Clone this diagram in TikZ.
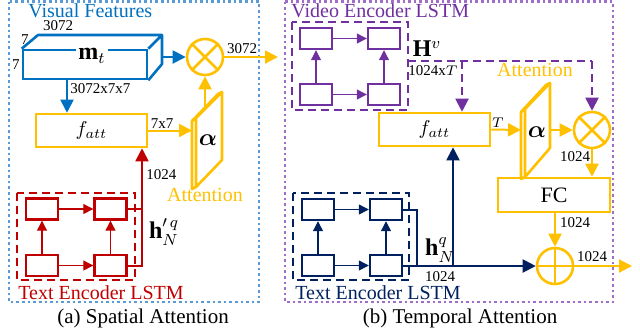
\documentclass[tikz,border=0pt]{standalone}
\usepackage{fontspec}
\setmainfont{Liberation Serif}
\usepackage{amsmath,bm}
\usetikzlibrary{arrows.meta,positioning}

\definecolor{featblue}{RGB}{0,112,192}
\definecolor{frameblue}{RGB}{91,155,213}
\definecolor{attyellow}{RGB}{255,192,0}
\definecolor{textred}{RGB}{192,0,0}
\definecolor{vidpurple}{RGB}{112,48,160}
\definecolor{framepurple}{RGB}{160,110,200}
\definecolor{textnavy}{RGB}{0,32,96}

\tikzset{
  panel/.style={line width=1.3pt,dash pattern=on 1.3pt off 1.5pt},
  lstmbox/.style={line width=1.4pt,dash pattern=on 4pt off 2.5pt},
  cell/.style={draw,rectangle,line width=1.2pt,minimum width=16pt,minimum height=10.5pt,inner sep=0pt},
  opbox/.style={draw=attyellow,rectangle,line width=1.3pt,inner sep=0pt},
  opcirc/.style={draw=attyellow,circle,line width=1.3pt,inner sep=0pt,minimum size=18pt},
  bigarr/.style={-{Triangle[length=6.5pt,width=6.5pt]},line width=1pt},
  smallarr/.style={-{Triangle[length=5pt,width=5pt]},line width=0.6pt},
  dimlab/.style={font=\fontsize{7.5}{8}\selectfont,inner sep=0.5pt},
  title/.style={font=\fontsize{10}{11}\selectfont,inner sep=0pt}
}

\begin{document}
\begin{tikzpicture}[x=0.5pt,y=-0.5pt]
\useasboundingbox (0,0) rectangle (640,334);

% panel frames
\draw[panel,frameblue] (9,1.5) rectangle (259,302);
\draw[panel,framepurple] (285,1.5) rectangle (613,302);
\node[title,anchor=west,text=featblue] (vft) at (28,11) {Visual Features};
\node[title,anchor=west,text=vidpurple] (vet) at (291,11) {Video Encoder LSTM};
\node[font=\fontsize{10.5}{12}\selectfont] (capa) at (143,318) {(a) Spatial Attention};
\node[font=\fontsize{10.5}{12}\selectfont] (capb) at (460,318) {(b) Temporal Attention};

% ---- (a) spatial attention ----
\node[draw=featblue,line width=1.3pt,minimum width=62pt,minimum height=14.5pt,inner sep=0pt] (cube) at (85,64.5) {};
\draw[featblue,line width=1.3pt,line join=round] (cube.north west) -- (38,35) -- (162,35) -- (162,64) -- (cube.south east) (cube.north east) -- (162,35);
\node[fill=white,inner sep=1pt,font=\large] (mt) at (92,56) {$\mathbf{m}_t$};
\node[dimlab] (d3072) at (58,26) {3072};
\node[dimlab] (d7a) at (25,40) {7};
\node[dimlab] (d7b) at (16,65) {7};
\coordinate (cubeside) at (162,57);
\coordinate (cubebot) at (67,79);

\node[opcirc] (mul1) at (205,57) {};
\draw[attyellow,line width=1.3pt] (mul1.north west) -- (mul1.south east) (mul1.north east) -- (mul1.south west);

\node[opbox,minimum width=55.5pt,minimum height=16.5pt] (fatt1) at (91.5,130.5) {$f_{att}$};

% attention plate
\begin{scope}[attyellow,line width=1.3pt,line join=round]
  \draw (196,118) -- (222,92) -- (222,160) -- (196,187) -- cycle;
  \draw (196,118) -- (192,121) -- (192,189) -- (196,187);
  \draw (192,121) -- (218,94) -- (222,92);
\end{scope}
\coordinate (plate1in) at (192,130.5);
\coordinate (plate1top) at (205,106);
\node[font=\large] (alpha1) at (208,140) {$\bm{\alpha}$};
\node[title,text=attyellow] (att1) at (205,195) {Attention};

\begin{scope}[bigarr]
  \path[featblue] (cubeside) edge (mul1.west);
  \path[featblue] (cubebot) edge (cubebot |- fatt1.north);
  \path[attyellow] (mul1.east) edge (278,57);
  \path[attyellow] (fatt1.east) edge (plate1in);
  \path[attyellow] (plate1top) edge (mul1.south);
\end{scope}
\node[dimlab] (d3072b) at (242,49) {3072};
\node[dimlab,anchor=west] (d3077) at (69,89) {3072x7x7};
\node[dimlab] (d77) at (162,124) {7x7};

% text encoder (a)
\draw[lstmbox,textred] (17,193) rectangle (135,280);
\begin{scope}[every node/.style={cell,draw=textred}]
  \node (r1) at (42,209) {};
  \node (r2) at (110.5,209) {};
  \node (r3) at (42,265.5) {};
  \node (r4) at (110.5,265.5) {};
\end{scope}
\begin{scope}[smallarr,textred]
  \path (r1) edge (r2);
  \path (r3) edge (r4);
  \path (r3) edge (r1);
  \path (r4) edge (r2);
\end{scope}
\coordinate (rjoin) at (142,265.5);
\draw[textred,line width=1pt] (r2.east) -| (rjoin);
\draw[bigarr,textred] (r4.east) -- (rjoin) -- (rjoin |- fatt1.south);
\node[dimlab,anchor=west] (d1024a) at (145,175) {1024};
\node[font=\large] (hq1) at (164,232) {$\mathbf{h}'^{\,q}_{N}$};
\node[title,anchor=west,text=textred] (tet1) at (18,293) {Text Encoder LSTM};

% ---- (b) temporal attention ----
\draw[lstmbox,vidpurple] (292,22) rectangle (408,110);
\begin{scope}[every node/.style={cell,draw=vidpurple}]
  \node (v1) at (316,38.5) {};
  \node (v2) at (384,38.5) {};
  \node (v3) at (316,94.5) {};
  \node (v4) at (384,94.5) {};
\end{scope}
\begin{scope}[smallarr,vidpurple]
  \path (v1) edge (v2);
  \path (v3) edge (v4);
  \path (v3) edge (v1);
  \path (v4) edge (v2);
\end{scope}
\node[font=\large] (hv) at (427,49) {$\mathbf{H}^{v}$};
\node[dimlab] (d1024t) at (433,71) {1024x$T$};

\node[opbox,minimum width=55.5pt,minimum height=16.5pt] (fatt2) at (434.5,129.5) {$f_{att}$};
\node[opcirc] (mul2) at (592,130) {};
\draw[attyellow,line width=1.3pt] (mul2.north west) -- (mul2.south east) (mul2.north east) -- (mul2.south west);
\node[opbox,minimum width=56pt,minimum height=17pt] (fc) at (554,195) {\fontsize{11}{12}\selectfont FC};
\node[opcirc] (add) at (555,266) {};
\draw[attyellow,line width=1.3pt] (add.north) -- (add.south) (add.west) -- (add.east);

\begin{scope}[attyellow,line width=1.3pt,line join=round]
  \draw (525,109) -- (550,83) -- (550,148) -- (525,177) -- cycle;
  \draw (525,109) -- (521,112) -- (521,179) -- (525,177);
  \draw (521,112) -- (546,85) -- (550,83);
\end{scope}
\coordinate (plate2in) at (521,130);
\coordinate (plate2out) at (550,130);
\node[font=\large] (alpha2) at (537,132) {$\bm{\alpha}$};
\node[title,text=attyellow] (att2) at (535,70) {Attention};

\coordinate (vout) at (408,61);
\coordinate (vbranch) at (462,61);
\draw[vidpurple,line width=1.2pt,dash pattern=on 4pt off 2.5pt] (vout) -- (vout -| mul2.north);
\begin{scope}[bigarr,vidpurple,dash pattern=on 4pt off 2.5pt]
  \path (vout -| mul2.north) edge (mul2.north);
  \path (vbranch) edge (vbranch |- fatt2.north);
\end{scope}

\begin{scope}[bigarr,attyellow]
  \path (fatt2.east) edge (plate2in);
  \path (plate2out) edge (mul2.west);
  \path (mul2.south) edge (mul2.south |- fc.north);
  \path (fc.south -| add.north) edge (add.north);
  \path (add.east) edge (632,266);
\end{scope}
\node[dimlab] (dT) at (498,123) {$T$};
\node[dimlab] (d1024b) at (575,157) {1024};
\node[dimlab] (d1024c) at (575,223) {1024};
\node[dimlab] (d1024d) at (592,257) {1024};

% text encoder (b)
\draw[lstmbox,textnavy] (293,193) rectangle (409,280);
\begin{scope}[every node/.style={cell,draw=textnavy}]
  \node (n1) at (318,209.5) {};
  \node (n2) at (386,209.5) {};
  \node (n3) at (318,265.5) {};
  \node (n4) at (386,265.5) {};
\end{scope}
\begin{scope}[smallarr,textnavy]
  \path (n1) edge (n2);
  \path (n3) edge (n4);
  \path (n3) edge (n1);
  \path (n4) edge (n2);
\end{scope}
\coordinate (njoin) at (417,266);
\coordinate (nbranch) at (453,266);
\draw[textnavy,line width=1pt] (n2.east) -| (njoin);
\begin{scope}[bigarr,textnavy]
  \path (n4.east |- add.west) edge (add.west);
  \path (nbranch) edge (nbranch |- fatt2.south);
\end{scope}
\node[font=\large] (hq2) at (440,250) {$\mathbf{h}^{q}_{N}$};
\node[dimlab] (d1024e) at (440,277) {1024};
\node[title,anchor=west,text=textnavy] (tet2) at (295,293) {Text Encoder LSTM};
\end{tikzpicture}
\end{document}
